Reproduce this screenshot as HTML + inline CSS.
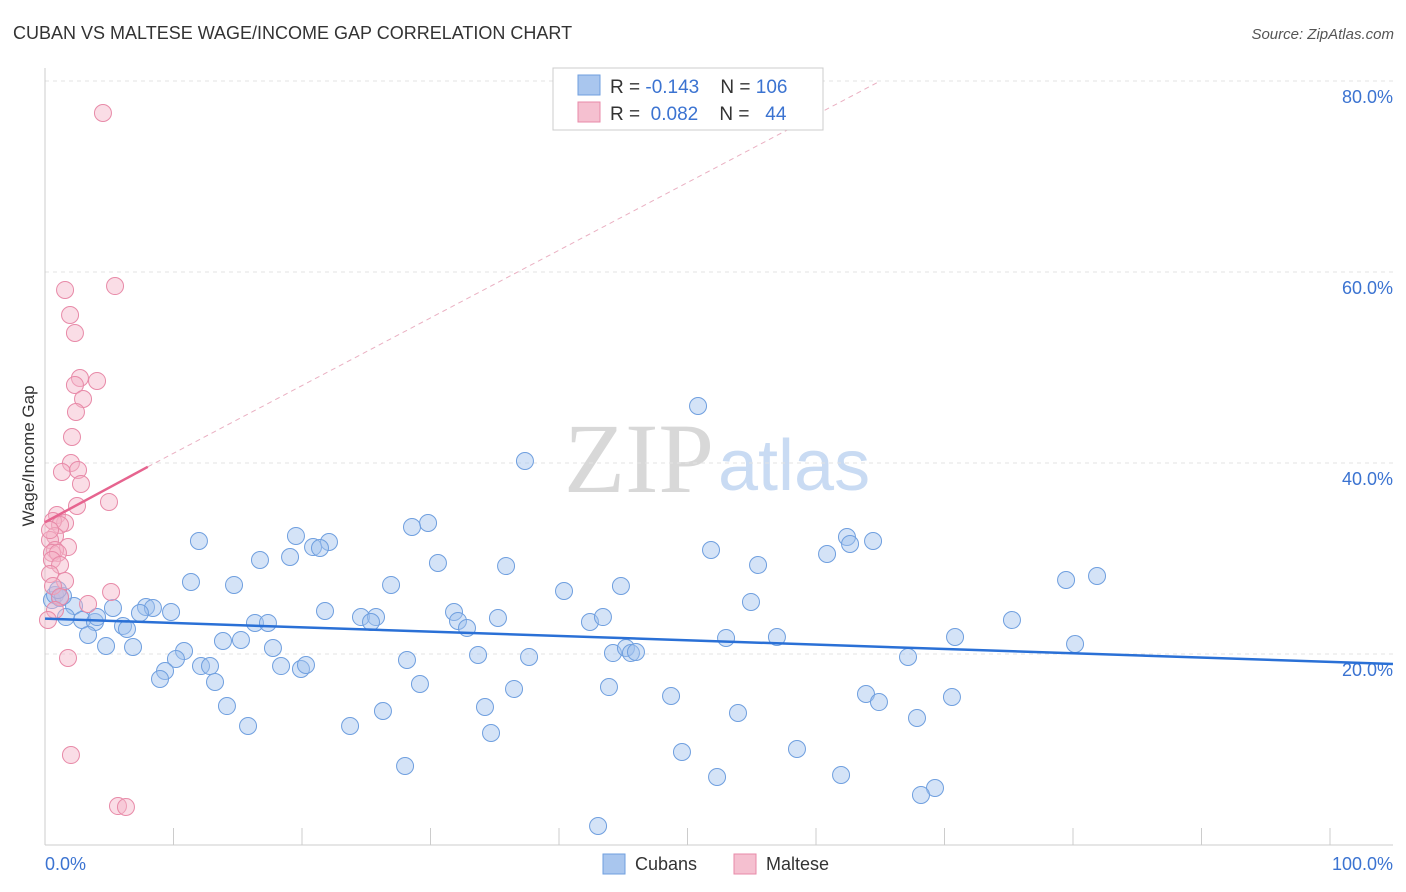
<!DOCTYPE html>
<html><head><meta charset="utf-8"><style>
body{margin:0;background:#fff;font-family:"Liberation Sans",sans-serif;}
svg{display:block}
</style></head><body>
<svg width="1406" height="892" id="c">
<text x="13" y="39" font-size="18" fill="#333">CUBAN VS MALTESE WAGE/INCOME GAP CORRELATION CHART</text>
<text x="1394" y="39" font-size="15" fill="#555" font-style="italic" text-anchor="end">Source: ZipAtlas.com</text>
<text x="714" y="492" font-size="100" fill="#d8d8d8" text-anchor="end" font-family="Liberation Serif">ZIP</text>
<text x="718" y="490" font-size="72" fill="#c9dbf3">atlas</text>
<g id="grid"></g>
<line x1="45" y1="68" x2="45" y2="845" stroke="#ccc"/>
<line x1="45" y1="845" x2="1393" y2="845" stroke="#ccc"/>
<text x="34" y="456" font-size="17" fill="#333" transform="rotate(-90 34 456)" text-anchor="middle">Wage/Income Gap</text>
<text x="45" y="870" font-size="18" fill="#3b73d1">0.0%</text>
<text x="1393" y="870" font-size="18" fill="#3b73d1" text-anchor="end">100.0%</text>
<g id="pts"></g>
<g id="lines"></g>
<g>
<rect x="553" y="68" width="270" height="62" fill="#fff" stroke="#ccc"/>
<rect x="578" y="75" width="22" height="20" fill="#a9c6ee" stroke="#6f9fdf"/>
<rect x="578" y="102" width="22" height="20" fill="#f5c0d0" stroke="#e88aa8"/>
<text x="610" y="93" font-size="19" fill="#333" xml:space="preserve">R = <tspan fill="#3b73d1">-0.143</tspan>    N = <tspan fill="#3b73d1">106</tspan></text>
<text x="610" y="120" font-size="19" fill="#333" xml:space="preserve">R =  <tspan fill="#3b73d1">0.082</tspan>    N =   <tspan fill="#3b73d1">44</tspan></text>
</g>
<g>
<rect x="603" y="854" width="22" height="20" fill="#a9c6ee" stroke="#6f9fdf"/>
<text x="635" y="870" font-size="18" fill="#333">Cubans</text>
<rect x="734" y="854" width="22" height="20" fill="#f5c0d0" stroke="#e88aa8"/>
<text x="766" y="870" font-size="18" fill="#333">Maltese</text>
</g>
</svg>
<script>
const yTicks=[20,40,60,80];
const xTicks=[0,10,20,30,40,50,60,70,80,90,100];
const bluePx=[[698,406],[525,461],[428,523],[412,527],[296,536],[199,541],[329,542],[313,547],[320,548],[711,550],[260,560],[290,557],[438,563],[506,566],[758,565],[827,554],[847,537],[850,544],[873,541],[1097,576],[1066,580],[191,582],[234,585],[391,585],[621,586],[564,591],[751,602],[113,608],[146,607],[153,608],[171,612],[140,613],[74,606],[66,617],[82,620],[95,622],[97,617],[123,626],[127,629],[88,635],[106,646],[133,647],[325,611],[361,617],[376,617],[371,622],[454,612],[458,621],[467,628],[498,618],[255,623],[268,623],[590,622],[603,617],[1012,620],[955,637],[726,638],[777,637],[1075,644],[223,641],[241,640],[273,648],[184,651],[176,659],[201,666],[210,666],[281,666],[301,669],[306,665],[407,660],[478,655],[529,657],[613,653],[626,648],[631,653],[636,652],[908,657],[165,671],[160,679],[215,682],[420,684],[514,689],[609,687],[671,696],[866,694],[879,702],[952,697],[227,706],[383,711],[485,707],[738,713],[917,718],[248,726],[350,726],[491,733],[682,752],[797,749],[405,766],[717,777],[841,775],[935,788],[921,795],[598,826],[52,600],[55,595],[60,598],[63,596],[58,590]];
const pinkPx=[[103,113],[115,286],[65,290],[70,315],[75,333],[80,378],[97,381],[75,385],[83,399],[76,412],[72,437],[71,463],[62,472],[78,470],[81,484],[109,502],[77,506],[57,515],[65,523],[53,521],[60,525],[55,536],[50,540],[68,547],[55,550],[52,553],[58,553],[52,560],[60,565],[50,574],[65,581],[53,586],[111,592],[60,597],[88,604],[55,610],[48,620],[68,658],[71,755],[118,806],[126,807],[50,530]];
const cubanX=bluePx.map(p=>+((p[0]-45)/12.85).toFixed(2));
const cubanY=bluePx.map(p=>+((845-p[1])/9.55).toFixed(2));
const malteseX=pinkPx.map(p=>+((p[0]-45)/12.85).toFixed(2));
const malteseY=pinkPx.map(p=>+((845-p[1])/9.55).toFixed(2));
const cubanTrend=[[0,23.7],[104.9,18.95]];
const malteseTrend=[[0,33.8],[8,39.6]];
const malteseDash=[[8,39.6],[65,80]];
const sx=v=>45+v*12.85, sy=v=>845-v*9.55;
const NS='http://www.w3.org/2000/svg';
function mk(t,a,parent){const e=document.createElementNS(NS,t);for(const k in a)e.setAttribute(k,a[k]);document.getElementById(parent).appendChild(e);return e;}
yTicks.forEach(t=>{
 const l=mk('line',{x1:45,x2:1393,y1:sy(t),y2:sy(t),stroke:'#e3e3e3','stroke-dasharray':'4,4'},'grid');
 
 
 const tx=mk('text',{x:1393,y:sy(t)+22,'font-size':18,fill:'#3b73d1','text-anchor':'end'},'grid');
 tx.textContent=t.toFixed(1)+'%';
 
 
});
xTicks.forEach(t=>{
 const l=mk('line',{x1:sx(t),x2:sx(t),y1:828,y2:845,stroke:'#ccc'},'grid');
 
 
});
cubanX.forEach((x,i)=>{
 const c=mk('circle',{cx:sx(x),cy:sy(cubanY[i]),r:8.5,fill:'rgba(160,192,238,0.45)',stroke:'#6f9fdf','stroke-width':1},'pts');
 
 
});
malteseX.forEach((x,i)=>{
 const c=mk('circle',{cx:sx(x),cy:sy(malteseY[i]),r:8.5,fill:'rgba(245,180,200,0.45)',stroke:'#e88aa8','stroke-width':1},'pts');
 
 
});
let l=mk('line',{x1:sx(cubanTrend[0][0]),y1:sy(cubanTrend[0][1]),x2:sx(cubanTrend[1][0]),y2:sy(cubanTrend[1][1]),stroke:'#2a70d6','stroke-width':2.5},'lines');


l=mk('line',{x1:sx(malteseDash[0][0]),y1:sy(malteseDash[0][1]),x2:sx(malteseDash[1][0]),y2:sy(malteseDash[1][1]),stroke:'#eab0c2','stroke-width':1,'stroke-dasharray':'5,4'},'lines');


l=mk('line',{x1:sx(malteseTrend[0][0]),y1:sy(malteseTrend[0][1]),x2:sx(malteseTrend[1][0]),y2:sy(malteseTrend[1][1]),stroke:'#e6648f','stroke-width':2.5},'lines');


</script>
</body></html>
